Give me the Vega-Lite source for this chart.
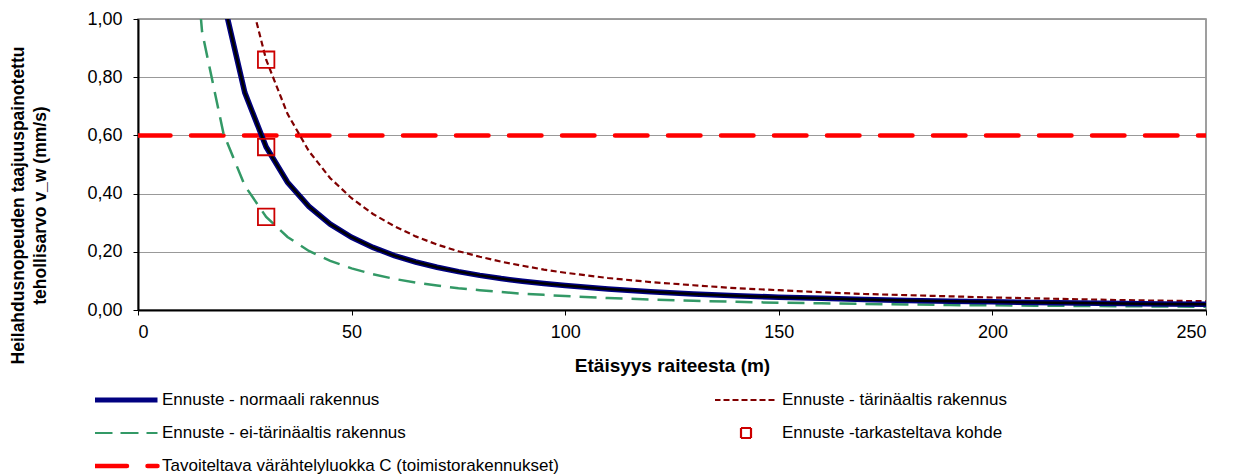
{
  "$schema": "https://vega.github.io/schema/vega-lite/v6.json",
  "width": 1068,
  "height": 291,
  "autosize": "none",
  "padding": {"left": 138, "top": 19, "right": 27, "bottom": 164},
  "background": "white",
  "config": {
    "font": "Liberation Sans",
    "view": {"stroke": "#808080", "strokeWidth": 1.5},
    "axis": {"labelFont": "Liberation Sans", "titleFont": "Liberation Sans", "labelFontSize": 18, "titleFontSize": 19, "titleFontWeight": "bold", "labelColor": "black", "titleColor": "black", "domainColor": "black", "tickColor": "black", "domainWidth": 2, "tickWidth": 1},
    "legend": {"labelFont": "Liberation Sans", "labelFontSize": 17, "labelColor": "black"}
  },
  "datasets": {
    "curves": [
      {"d": 10, "n": null, "t": null, "e": 1.814},
      {"d": 15, "n": null, "t": null, "e": 0.956},
      {"d": 20, "n": 1.063, "t": null, "e": 0.607},
      {"d": 25, "n": 0.747, "t": 1.147, "e": 0.427},
      {"d": 30, "n": 0.56, "t": 0.86, "e": 0.32},
      {"d": 35, "n": 0.439, "t": 0.674, "e": 0.251},
      {"d": 40, "n": 0.356, "t": 0.546, "e": 0.203},
      {"d": 45, "n": 0.295, "t": 0.453, "e": 0.169},
      {"d": 50, "n": 0.25, "t": 0.384, "e": 0.143},
      {"d": 55, "n": 0.215, "t": 0.33, "e": 0.123},
      {"d": 60, "n": 0.187, "t": 0.288, "e": 0.107},
      {"d": 65, "n": 0.165, "t": 0.253, "e": 0.094},
      {"d": 70, "n": 0.147, "t": 0.225, "e": 0.084},
      {"d": 75, "n": 0.132, "t": 0.202, "e": 0.075},
      {"d": 80, "n": 0.119, "t": 0.183, "e": 0.068},
      {"d": 85, "n": 0.108, "t": 0.166, "e": 0.062},
      {"d": 90, "n": 0.099, "t": 0.152, "e": 0.056},
      {"d": 95, "n": 0.091, "t": 0.139, "e": 0.052},
      {"d": 100, "n": 0.084, "t": 0.128, "e": 0.048},
      {"d": 110, "n": 0.072, "t": 0.11, "e": 0.041},
      {"d": 120, "n": 0.063, "t": 0.096, "e": 0.036},
      {"d": 130, "n": 0.055, "t": 0.085, "e": 0.032},
      {"d": 140, "n": 0.049, "t": 0.075, "e": 0.028},
      {"d": 150, "n": 0.044, "t": 0.068, "e": 0.025},
      {"d": 160, "n": 0.04, "t": 0.061, "e": 0.023},
      {"d": 170, "n": 0.036, "t": 0.055, "e": 0.021},
      {"d": 180, "n": 0.033, "t": 0.051, "e": 0.019},
      {"d": 190, "n": 0.03, "t": 0.047, "e": 0.017},
      {"d": 200, "n": 0.028, "t": 0.043, "e": 0.016},
      {"d": 210, "n": 0.026, "t": 0.04, "e": 0.015},
      {"d": 220, "n": 0.024, "t": 0.037, "e": 0.014},
      {"d": 230, "n": 0.022, "t": 0.034, "e": 0.013},
      {"d": 240, "n": 0.021, "t": 0.032, "e": 0.012},
      {"d": 250, "n": 0.02, "t": 0.03, "e": 0.011}
    ],
    "target": [{"d": 0, "v": 0.6}, {"d": 250, "v": 0.6}],
    "points": [{"d": 30, "v": 0.86}, {"d": 30, "v": 0.56}, {"d": 30, "v": 0.32}]
  },
  "layer": [
    {
      "data": {"name": "target"},
      "mark": {"type": "line", "strokeWidth": 4.5, "strokeDash": [32.5, 20.5], "strokeCap": "round", "clip": true},
      "encoding": {
        "x": {"field": "d", "type": "quantitative", "scale": {"domain": [0, 250], "nice": false, "zero": true},
          "axis": {"values": [0, 50, 100, 150, 200, 250], "grid": false, "tickSize": 5, "labelPadding": 8, "title": "Etäisyys raiteesta (m)", "titlePadding": 15}},
        "y": {"field": "v", "type": "quantitative", "scale": {"domain": [0, 1], "nice": false},
          "axis": {"values": [0, 0.2, 0.4, 0.6, 0.8, 1.0], "grid": true, "gridColor": "#999999", "gridWidth": 1, "tickSize": 5, "labelPadding": 11, "labelExpr": "replace(format(datum.value, '.2f'), '.', ',')", "title": ["Heilahdusnopeuden taajuuspainotettu", "tehollisarvo v_w (mm/s)"], "titleFontSize": 17.5, "titlePadding": 37, "titleLineHeight": 22, "titleY": 186}},
        "color": {"datum": "Tavoiteltava värähtelyluokka C (toimistorakennukset)", "type": "nominal",
          "scale": {"domain": ["Ennuste - normaali rakennus", "Ennuste - tärinäaltis rakennus", "Ennuste - ei-tärinäaltis rakennus", "Ennuste -tarkasteltava kohde", "Tavoiteltava värähtelyluokka C (toimistorakennukset)"],
                    "range": ["#000080", "#800000", "#339966", "#cc0000", "#ff0000"]},
          "legend": {
            "title": null, "orient": "none", "legendX": -43, "legendY": 372, "direction": "horizontal", "columns": 2,
            "symbolType": "stroke", "symbolSize": 3969, "clipHeight": 18, "rowPadding": 15, "columnPadding": 156, "labelOffset": 27.5, "symbolOffset": 22.5, "labelLimit": 600,
            "encode": {
              "symbols": {"update": {
                "shape": {"signal": "datum.value === 'Ennuste -tarkasteltava kohde' ? 'square' : 'stroke'"},
                "size": {"signal": "datum.value === 'Ennuste -tarkasteltava kohde' ? 100 : 3969"},
                "strokeWidth": {"signal": "datum.value === 'Ennuste - normaali rakennus' ? 5 : datum.value === 'Tavoiteltava värähtelyluokka C (toimistorakennukset)' ? 4.5 : 2.2"},
                "strokeDash": {"signal": "datum.value === 'Ennuste - tärinäaltis rakennus' ? [6, 3] : datum.value === 'Ennuste - ei-tärinäaltis rakennus' ? [18, 8] : datum.value === 'Tavoiteltava värähtelyluokka C (toimistorakennukset)' ? [32.5, 20.5] : [1, 0]"},
                "strokeCap": {"signal": "datum.value === 'Tavoiteltava värähtelyluokka C (toimistorakennukset)' ? 'round' : 'butt'"},
                "fill": {"value": "transparent"},
                "opacity": {"value": 1}
              }}
            }
          }
        }
      }
    },
    {
      "data": {"name": "curves"},
      "mark": {"type": "line", "strokeWidth": 2.5, "strokeDash": [17, 9], "clip": true},
      "encoding": {
        "x": {"field": "d", "type": "quantitative"},
        "y": {"field": "e", "type": "quantitative"},
        "color": {"datum": "Ennuste - ei-tärinäaltis rakennus", "type": "nominal"}
      }
    },
    {
      "data": {"name": "curves"},
      "mark": {"type": "line", "strokeWidth": 2.2, "strokeDash": [6, 3.5], "clip": true},
      "encoding": {
        "x": {"field": "d", "type": "quantitative"},
        "y": {"field": "t", "type": "quantitative"},
        "color": {"datum": "Ennuste - tärinäaltis rakennus", "type": "nominal"}
      }
    },
    {
      "data": {"name": "curves"},
      "mark": {"type": "line", "strokeWidth": 5.5, "clip": true},
      "encoding": {
        "x": {"field": "d", "type": "quantitative"},
        "y": {"field": "n", "type": "quantitative"},
        "color": {"datum": "Ennuste - normaali rakennus", "type": "nominal"}
      }
    },
    {
      "data": {"name": "curves"},
      "mark": {"type": "line", "strokeWidth": 2.5, "color": "black", "clip": true},
      "encoding": {
        "x": {"field": "d", "type": "quantitative"},
        "y": {"field": "n", "type": "quantitative"}
      }
    },
    {
      "data": {"name": "points"},
      "mark": {"type": "point", "shape": "square", "filled": false, "size": 270, "strokeWidth": 1.8, "opacity": 1},
      "encoding": {
        "x": {"field": "d", "type": "quantitative"},
        "y": {"field": "v", "type": "quantitative"},
        "color": {"datum": "Ennuste -tarkasteltava kohde", "type": "nominal"}
      }
    }
  ]
}
